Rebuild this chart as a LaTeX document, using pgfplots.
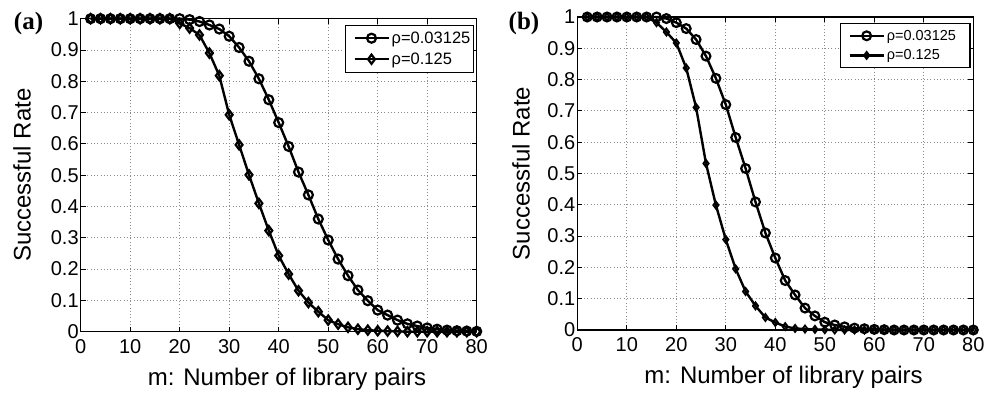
\documentclass[border=0pt]{standalone}
\usepackage{fontspec}
\setmainfont{Liberation Sans}
\newfontfamily\serifbold{Liberation Serif}
\usepackage{pgfplots}
\usepackage{pgfplotstable}
\pgfplotsset{compat=1.18}

\pgfplotstableread{
x c d
2 1 1
4 1 1
6 1 1
8 1 1
10 1 1
12 1 1
14 1 1
16 1 1
18 1 1
20 1 0.985
22 0.997 0.97
24 0.991 0.948
26 0.98 0.89
28 0.967 0.818
30 0.944 0.693
32 0.908 0.597
34 0.864 0.501
36 0.808 0.41
38 0.741 0.323
40 0.668 0.243
42 0.592 0.184
44 0.51 0.131
46 0.437 0.093
48 0.36 0.064
50 0.293 0.037
52 0.232 0.024
54 0.179 0.014
56 0.133 0.008
58 0.099 0.005
60 0.069 0.003
62 0.053 0.002
64 0.037 0.001
66 0.025 0
68 0.018 0
70 0.012 0
72 0.008 0
74 0.005 0
76 0.003 0
78 0.002 0
80 0.001 0
}\dataA

\pgfplotstableread{
x c d
2 1 1
4 1 1
6 1 1
8 1 1
10 1 1
12 1 1
14 1 1
16 1 0.982
18 0.995 0.952
20 0.982 0.917
22 0.963 0.837
24 0.928 0.711
26 0.875 0.532
28 0.804 0.399
30 0.72 0.289
32 0.615 0.195
34 0.516 0.123
36 0.409 0.077
38 0.31 0.04
40 0.23 0.024
42 0.158 0.011
44 0.112 0.005
46 0.07 0.003
48 0.045 0.002
50 0.025 0.001
52 0.016 0
54 0.01 0
56 0.006 0
58 0.004 0
60 0.002 0
62 0.001 0
64 0 0
66 0 0
68 0 0
70 0 0
72 0 0
74 0 0
76 0 0
78 0 0
80 0 0
}\dataB

\pgfplotsset{
  myaxis/.style={
    scale only axis, width=396pt, height=313pt,
    xmin=0, xmax=80, ymin=0, ymax=1,
    clip=false,
    xtick={0,10,20,30,40,50,60,70,80},
    ytick={0,0.1,0.2,0.3,0.4,0.5,0.6,0.7,0.8,0.9,1},
    yticklabels={0,0.1,0.2,0.3,0.4,0.5,0.6,0.7,0.8,0.9,1},
    grid=major,
    major grid style={dash pattern=on 1pt off 2.3pt, black!45, line width=0.9pt},
    axis line style={line width=1.3pt},
    tick style={line width=0.9pt, black},
    major tick length=5pt,
    tick align=inside,
    xtick pos=both, ytick pos=both,
    ticklabel style={font=\fontsize{20}{22}\selectfont},
    xticklabel style={yshift=-4pt},
    yticklabel style={xshift=1.5pt},
    /pgf/number format/assume math mode=true,
    xlabel={m: Number of library pairs},
    ylabel={Successful Rate},
    every axis x label/.style={at={(axis description cs:0.521,-0.151)},anchor=center,font=\fontsize{24}{28}\selectfont},
    legend style={at={(0.993,0.981)}, anchor=north east, draw=black, line width=1.1pt,
      inner xsep=2pt, inner ysep=5.5pt, nodes={inner sep=1pt}, row sep=6pt, cells={anchor=west}},
    legend image code/.code={\path (-6pt,0pt) (35pt,0pt); \draw[line width=2.4pt, mark repeat=2,mark phase=2] plot coordinates {(0pt,0pt) (17pt,0pt) (34pt,0pt)};},
  }
}

\begin{document}
\begin{tikzpicture}
\useasboundingbox (0,0) rectangle (995pt,396pt);
\begin{axis}[myaxis, at={(80.7pt,64.3pt)}, anchor=south west,
  legend style={font=\fontsize{16.5}{18}\selectfont},
  every axis y label/.style={at={(axis description cs:-0.148,0.5)},anchor=center,rotate=90,font=\fontsize{24}{28}\selectfont}]
\addplot[black, line width=2.4pt, mark=o, mark size=4.5pt, mark options={line width=2.2pt}] table[x=x,y=c]{\dataA};
\addlegendentry{ρ=0.03125}
\addplot[black, line width=2.4pt, mark=diamond, mark size=4.6pt, mark options={line width=2.2pt}] table[x=x,y=d]{\dataA};
\addlegendentry{ρ=0.125}
\end{axis}
\begin{axis}[myaxis, at={(577.3pt,66pt)}, anchor=south west,
  legend style={font=\fontsize{14.5}{17}\selectfont},
  every axis y label/.style={at={(axis description cs:-0.142,0.5)},anchor=center,rotate=90,font=\fontsize{24}{28}\selectfont}]
\addplot[black, line width=2.4pt, mark=o, mark size=4.4pt, mark options={line width=2.2pt}] table[x=x,y=c]{\dataB};
\addlegendentry{ρ=0.03125\hspace*{11pt}}
\addplot[black, line width=2.4pt, mark=diamond, mark size=3.5pt, mark options={line width=1.8pt}] table[x=x,y=d]{\dataB};
\addlegendentry{ρ=0.125}
\end{axis}
\node[font=\serifbold\bfseries\fontsize{25}{28}\selectfont] at (28.5pt,373pt) {(a)};
\node[font=\serifbold\bfseries\fontsize{25}{28}\selectfont] at (524pt,373pt) {(b)};
\end{tikzpicture}
\end{document}
